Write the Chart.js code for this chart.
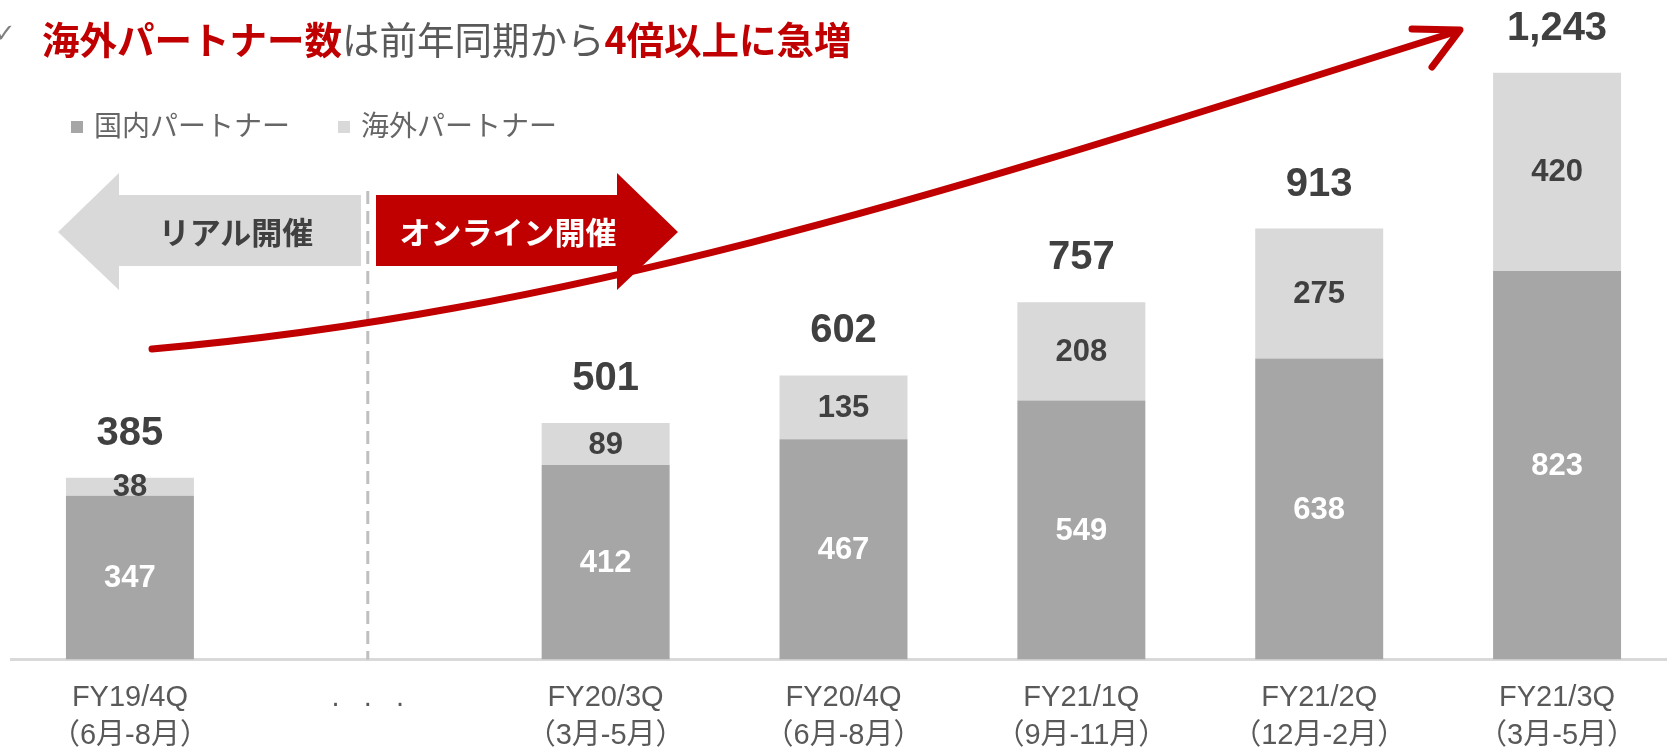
<!DOCTYPE html>
<html lang="ja">
<head>
<meta charset="utf-8">
<script src="https://cdn.jsdelivr.net/npm/chart.js@4.4.0/dist/chart.umd.min.js"></script>
<style>
  html, body { margin: 0; padding: 0; background: #ffffff; overflow: hidden; }
  #wrap { position: relative; width: 1680px; height: 775px; }
  #wrap canvas { position: absolute; left: 0; top: 0; }

  .check { position: absolute; left: -6px; top: 18px; font: 26px "DejaVu Sans"; color: #7f7f7f; }
  .titulo { position: absolute; left: 42px; top: 19px; font-family: "Noto Sans CJK JP"; font-size: 37.5px;
            line-height: 1; color: #595959; white-space: nowrap; }
  .titulo b { color: #c00000; font-weight: 700; }

  .legenda { position: absolute; top: 106px; font-family: "Noto Sans CJK JP"; font-size: 28px; line-height: 36px;
             color: #666666; white-space: nowrap; }
  .legenda i { display: inline-block; width: 12px; height: 12px; margin-right: 11px; vertical-align: 3px; }

  .seta-texto { position: absolute; transform: translate(-50%, -50%); font-family: "Noto Sans CJK JP";
                font-weight: 700; font-size: 31px; white-space: nowrap; line-height: 1; }
</style>
</head>
<body>
<div id="wrap">
  <canvas id="grafico"></canvas>
  <div class="check">✓</div>
  <div class="titulo"><b>海外パートナー数</b>は前年同期から<b>4倍以上に急増</b></div>
  <div class="legenda" style="left:71px"><i style="background:#a6a6a6"></i>国内パートナー</div>
  <div class="legenda" style="left:338px"><i style="background:#d9d9d9"></i>海外パートナー</div>
  <div class="seta-texto" style="left:236px; top:230px; color:#404040">リアル開催</div>
  <div class="seta-texto" style="left:508px; top:230px; color:#ffffff">オンライン開催</div>
</div>

<script>
// DADOS DO GRÁFICO
const categorias = [
  ['FY19/4Q', '（6月-8月）'],
  '.   .   .',
  ['FY20/3Q', '（3月-5月）'],
  ['FY20/4Q', '（6月-8月）'],
  ['FY21/1Q', '（9月-11月）'],
  ['FY21/2Q', '（12月-2月）'],
  ['FY21/3Q', '（3月-5月）']
];
const parceirosDomesticos = [347, null, 412, 467, 549, 638, 823];
const parceirosExterior = [38, null, 89, 135, 208, 275, 420];
const totais = [385, null, 501, 602, 757, 913, 1243];

const corEscura = '#a6a6a6';
const corClara = '#d9d9d9';
const vermelho = '#c00000';

// RÓTULOS DENTRO DAS BARRAS E TOTAIS EM CIMA
const rotulosPlugin = {
  id: 'rotulos',
  afterDatasetsDraw (chart) {
    const ctx = chart.ctx;
    ctx.save();
    ctx.textAlign = 'center';
    ctx.textBaseline = 'middle';

    chart.data.datasets.forEach((ds, i) => {
      const meta = chart.getDatasetMeta(i);
      meta.data.forEach((barra, j) => {
        if (ds.data[j] == null) return;
        ctx.font = 'bold 31px "Liberation Sans"';
        ctx.fillStyle = i == 0 ? '#ffffff' : '#404040';
        ctx.fillText(ds.data[j], barra.x, (barra.y + barra.base) / 2 + 1);
      });
    });

    // total acima da pilha
    const metaTopo = chart.getDatasetMeta(1);
    metaTopo.data.forEach((barra, j) => {
      if (totais[j] == null) return;
      ctx.font = 'bold 40px "Liberation Sans"';
      ctx.fillStyle = '#404040';
      ctx.fillText(totais[j].toLocaleString('en-US'), barra.x, barra.y - 44);
    });
    ctx.restore();
  }
};

// SETAS, LINHA TRACEJADA E CURVA VERMELHA
const decoracaoPlugin = {
  id: 'decoracao',
  beforeDatasetsDraw (chart) {
    const ctx = chart.ctx;
    const xDivisao = chart.scales.x.getPixelForValue(1);
    const yBase = chart.scales.y.getPixelForValue(0);

    ctx.save();
    // linha tracejada entre real e online
    ctx.strokeStyle = '#bfbfbf';
    ctx.lineWidth = 3;
    ctx.setLineDash([13, 7]);
    ctx.beginPath();
    ctx.moveTo(xDivisao, 191);
    ctx.lineTo(xDivisao, yBase);
    ctx.stroke();
    ctx.setLineDash([]);

    // seta cinza (esquerda)
    ctx.fillStyle = corClara;
    ctx.beginPath();
    ctx.moveTo(58, 232);
    ctx.lineTo(119, 173);
    ctx.lineTo(119, 195);
    ctx.lineTo(361, 195);
    ctx.lineTo(361, 266);
    ctx.lineTo(119, 266);
    ctx.lineTo(119, 290);
    ctx.closePath();
    ctx.fill();

    // seta vermelha (direita)
    ctx.fillStyle = vermelho;
    ctx.beginPath();
    ctx.moveTo(678, 232);
    ctx.lineTo(617, 173);
    ctx.lineTo(617, 195);
    ctx.lineTo(376, 195);
    ctx.lineTo(376, 266);
    ctx.lineTo(617, 266);
    ctx.lineTo(617, 290);
    ctx.closePath();
    ctx.fill();
    ctx.restore();
  },
  afterDatasetsDraw (chart) {
    const ctx = chart.ctx;
    ctx.save();
    ctx.strokeStyle = vermelho;
    ctx.lineWidth = 7;
    ctx.lineCap = 'round';
    ctx.lineJoin = 'round';
    // curva de crescimento
    ctx.beginPath();
    ctx.moveTo(152, 349);
    ctx.bezierCurveTo(600, 310, 1000, 175, 1458, 31);
    ctx.stroke();
    // ponta da seta
    ctx.beginPath();
    ctx.moveTo(1412, 29);
    ctx.lineTo(1460, 30);
    ctx.lineTo(1432, 67);
    ctx.stroke();
    ctx.restore();
  }
};

const config = {
  type: 'bar',
  data: {
    labels: categorias,
    datasets: [
      { label: '国内パートナー', data: parceirosDomesticos, backgroundColor: corEscura },
      { label: '海外パートナー', data: parceirosExterior, backgroundColor: corClara }
    ]
  },
  options: {
    responsive: true,
    maintainAspectRatio: false,
    animation: false,
    layout: { padding: { left: 11, right: 4, top: 2, bottom: 0 } },
    datasets: { bar: { categoryPercentage: 1, barPercentage: 0.538 } },
    plugins: {
      legend: { display: false },
      tooltip: { enabled: false }
    },
    scales: {
      x: {
        stacked: true,
        grid: { display: false, drawTicks: false },
        border: { display: true, color: '#d9d9d9', width: 3 },
        ticks: {
          color: '#595959',
          padding: 20,
          maxRotation: 0,
          autoSkip: false,
          font: { family: '"Liberation Sans", "Noto Sans CJK JP"', size: 29, lineHeight: 1.3 }
        }
      },
      y: {
        stacked: true,
        display: false,
        min: 0,
        max: 1393
      }
    }
  },
  plugins: [decoracaoPlugin, rotulosPlugin]
};

const grafico = new Chart(document.getElementById('grafico'), config);
</script>
</body>
</html>
